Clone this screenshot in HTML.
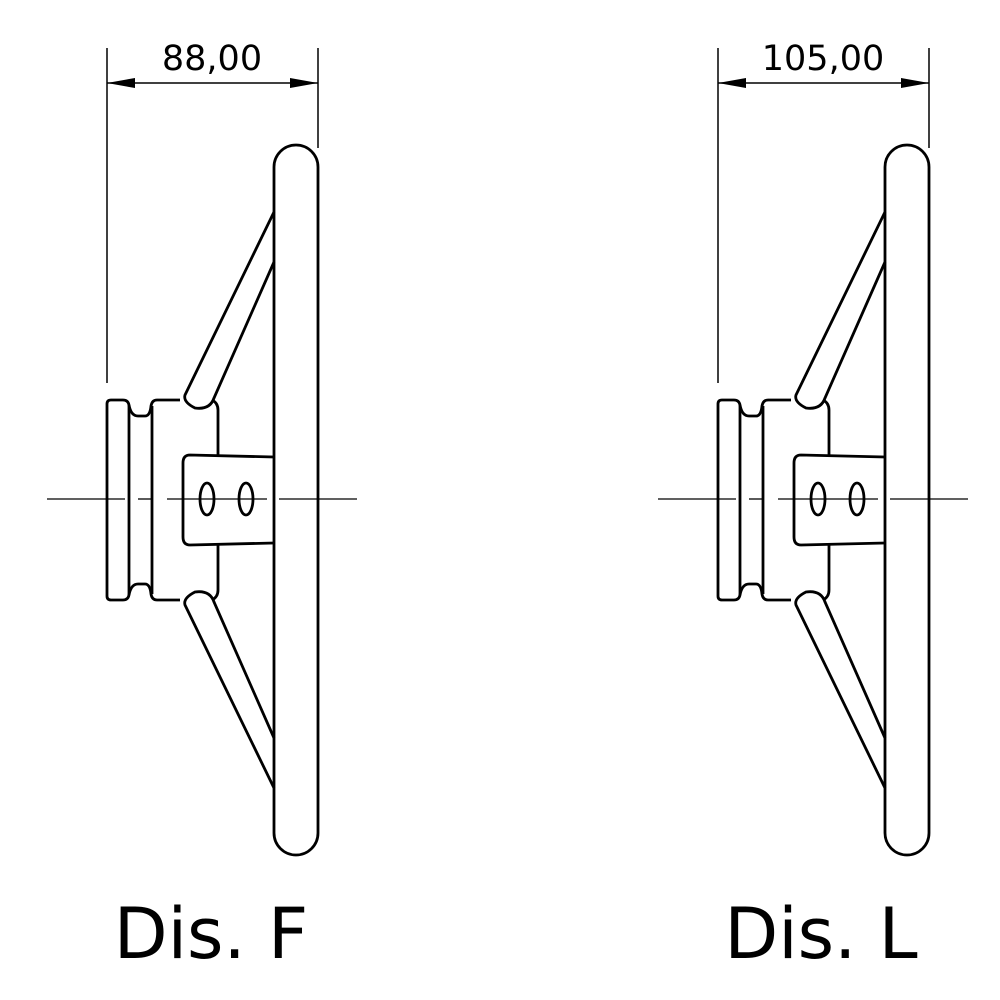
<!DOCTYPE html>
<html><head><meta charset="utf-8"><style>
html,body{margin:0;padding:0;background:#fff}
svg{display:block}
text{font-family:"DejaVu Sans","Liberation Sans",sans-serif;fill:#000}
</style></head><body>
<svg width="1000" height="1000" viewBox="0 0 1000 1000" xmlns="http://www.w3.org/2000/svg">
<defs>
<g id="wheel" fill="none" stroke="#000" stroke-width="2.8">
  <line x1="107" y1="48" x2="107" y2="383" stroke-width="1.5"/>
  <line x1="318" y1="48" x2="318" y2="148" stroke-width="1.5"/>
  <line x1="107" y1="83" x2="318" y2="83" stroke-width="1.5"/>
  <polygon points="107,83 135,78 135,88" fill="#000" stroke="none"/>
  <polygon points="318,83 290,78 290,88" fill="#000" stroke="none"/>
  <rect x="274" y="145" width="44" height="710" rx="22" ry="22"/>
  <path d="M274,212 L185,395 Q183,402 195,408 Q210,410 214,398 L274,262"/>
  <path d="M274,788 L185,605 Q183,598 195,592 Q210,590 214,602 L274,738"/>
  <path d="M111,400 L123,400 Q128,400 129,405 Q131,416 138,416 L145,416 Q150,416 151,406 Q152,400 157,400 L180,400"/>
  <path d="M111,600 L123,600 Q128,600 129,595 Q131,584 138,584 L145,584 Q150,584 151,594 Q152,600 157,600 L180,600"/>
  <path d="M111,400 Q107,400 107,404 L107,596 Q107,600 111,600"/>
  <line x1="129" y1="405" x2="129" y2="595"/>
  <line x1="152" y1="406" x2="152" y2="594"/>
  <path d="M212,400 Q218,403 218,410 L218,455"/>
  <path d="M212,600 Q218,597 218,590 L218,545"/>
  <path d="M274,457 L190,455 Q183,455 183,463 L183,537 Q183,545 190,545 L274,543"/>
  <ellipse cx="207" cy="499" rx="7" ry="16"/>
  <ellipse cx="246" cy="499" rx="7" ry="16"/>
  <g stroke-width="1.3">
    <line x1="47" y1="499" x2="125" y2="499"/>
    <line x1="138" y1="499" x2="152" y2="499"/>
    <line x1="167" y1="499" x2="267" y2="499"/>
    <line x1="279" y1="499" x2="357" y2="499"/>
  </g>
</g>
</defs>
<use href="#wheel"/>
<use href="#wheel" transform="translate(611,0)"/>
<text x="212" y="70" font-size="35" text-anchor="middle">88,00</text>
<text x="823" y="70" font-size="35" text-anchor="middle">105,00</text>
<text x="211" y="958" font-size="70" text-anchor="middle">Dis. F</text>
<text x="821" y="958" font-size="70" text-anchor="middle">Dis. L</text>
</svg>
</body></html>
